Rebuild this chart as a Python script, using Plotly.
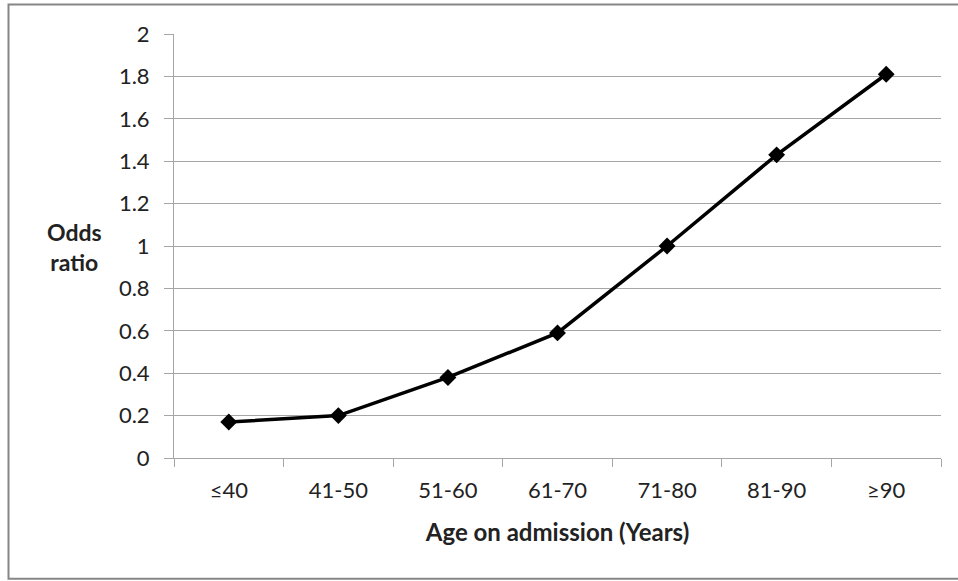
import plotly.graph_objects as go

# Age groups and the odds ratio for each
age_groups = ["≤40", "41-50", "51-60", "61-70", "71-80", "81-90", "≥90"]
odds_ratio = [0.17, 0.20, 0.38, 0.59, 1.00, 1.43, 1.81]

W, H = 958, 581
L, R, T, B = 174, 17, 34, 122.5
pw, ph = W - L - R, H - T - B


def px_x(x):
    return (x - L) / pw


def px_y(y):
    return (H - B - y) / ph


FONT = "Lato, Calibri, Carlito, sans-serif"
GRID = "#a6a6a6"

fig = go.Figure(
    go.Scatter(
        x=age_groups,
        y=odds_ratio,
        mode="lines+markers",
        line=dict(color="black", width=3.5),
        marker=dict(symbol="diamond", size=13, color="black"),
        cliponaxis=False,
    )
)

fig.update_layout(
    width=W,
    height=H,
    margin=dict(l=L, r=R, t=T, b=B),
    paper_bgcolor="white",
    plot_bgcolor="white",
    showlegend=False,
    font=dict(family=FONT, size=20, color="#222222"),
    xaxis=dict(
        type="category",
        tickson="boundaries",
        ticks="outside",
        ticklen=8,
        tickcolor=GRID,
        showgrid=False,
        showline=True,
        linecolor=GRID,
        linewidth=1,
        zeroline=False,
        range=[-0.5, 6.5],
        tickfont=dict(size=22),
        ticklabelstandoff=13,
        title=dict(text="<b>Age on admission (Years)</b>", font=dict(size=24), standoff=21),
    ),
    yaxis=dict(
        range=[0, 2],
        dtick=0.2,
        tick0=0,
        ticks="outside",
        ticklen=9,
        tickcolor=GRID,
        showgrid=True,
        gridcolor=GRID,
        gridwidth=1,
        showline=True,
        linecolor=GRID,
        zeroline=False,
        tickfont=dict(size=22),
        ticklabelstandoff=10,
    ),
    shapes=[
        dict(
            type="rect",
            xref="paper",
            yref="paper",
            x0=px_x(8.5),
            x1=px_x(975),
            y0=px_y(579.5),
            y1=px_y(4.5),
            line=dict(color="#868686", width=2),
            layer="below",
        )
    ],
    annotations=[
        dict(
            text="<b>Odds<br>ratio</b>",
            xref="paper",
            yref="paper",
            x=px_x(74),
            y=px_y(247),
            xanchor="center",
            yanchor="middle",
            showarrow=False,
            font=dict(size=23),
            align="center",
        )
    ],
)

fig.write_html("out.html")
